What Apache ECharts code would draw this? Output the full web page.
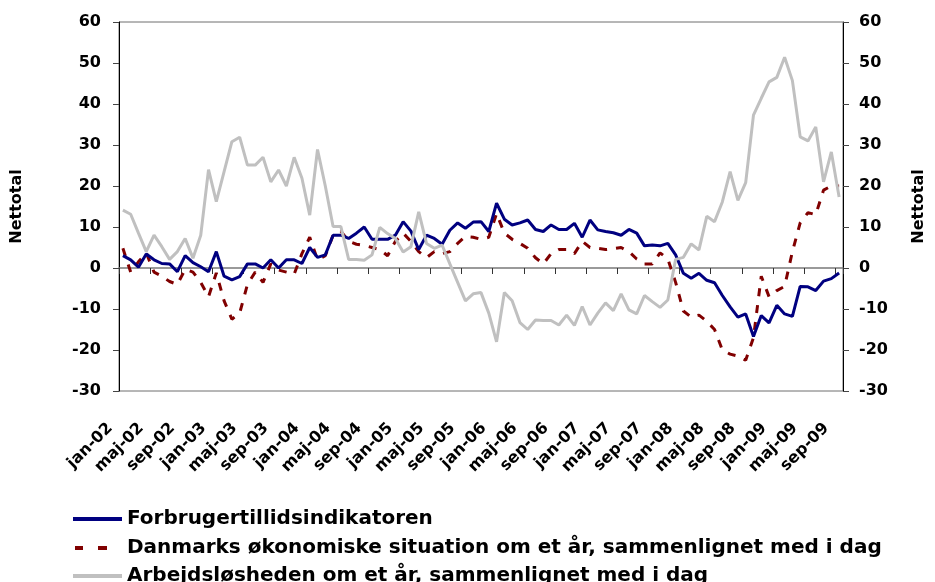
<!DOCTYPE html>
<html>
<head>
<meta charset="utf-8">
<script src="https://cdn.jsdelivr.net/npm/echarts@6/dist/echarts.min.js"></script>
<style>
  html, body { margin: 0; padding: 0; background: #fff; }
  #mychart { width: 935px; height: 582px; }
</style>
</head>
<body>
<div id="mychart"></div>
<script>
// måneder (danske forkortelser) og år
const monthNames = ["jan", "feb", "mar", "apr", "maj", "jun", "jul", "aug", "sep", "okt", "nov", "dec"];
const years = ["02", "03", "04", "05", "06", "07", "08", "09"];
const categories = years.flatMap(y => monthNames.map(m => m + "-" + y)).slice(0, 93); // jan-02 .. sep-09

const yTicks = { min: -30, max: 60, step: 10 };

const seriesNames = [
  "Forbrugertillidsindikatoren",
  "Danmarks økonomiske situation om et år, sammenlignet med i dag",
  "Arbejdsløsheden om et år, sammenlignet med i dag"
];

// Forbrugertillidsindikatoren
const forbruger = [
  3, 2, 0.2, 3.4, 2, 1.1, 1, -0.9, 3, 1.3, 0.3, -0.9,
  4, -2, -2.9, -2.1, 1, 1, 0, 2, 0, 2, 2, 1.1,
  5, 2.6, 3.2, 8, 8, 7.2, 8.5, 10, 7, 7, 7, 8,
  11.3, 9, 4.5, 8, 7.2, 5.8, 9.2, 11, 9.7, 11.2, 11.3, 8.9,
  15.8, 11.9, 10.5, 11, 11.7, 9.4, 8.9, 10.5, 9.4, 9.4, 10.9, 7.5,
  11.7, 9.3, 8.9, 8.6, 8, 9.4, 8.5, 5.4, 5.6, 5.4, 6, 3.2,
  -1.3, -2.5, -1.3, -3, -3.6, -6.7, -9.5, -12, -11.2, -16.7, -11.6, -13.4,
  -9.1, -11.2, -11.8, -4.5, -4.6, -5.5, -3.2, -2.6, -1.2
];

// Danmarks økonomiske situation om et år
const oekonomi = [
  4.8, -1, 1.5, 3.7, -1, -2, -3.3, -4, -0.3, -1, -3.5, -7,
  -1.2, -8, -12.5, -11, -4, -1, -3.5, 1, -0.5, -1, -1.5, 3.5,
  7.5, 2, 3, 8, 9, 6.5, 5.8, 5.5, 5, 4.5, 3, 6.5,
  8.5, 6.5, 4, 2.5, 4, 3.5, 4, 6, 7.7, 7.5, 7, 7.5,
  13.3, 8.5, 7, 6, 4.8, 2.5, 1, 3.5, 4.5, 4.5, 3.5, 6.5,
  5, 4.8, 4.5, 4.7, 5, 4, 2.2, 1, 1, 3.7, 2.2, -3.5,
  -10.5, -12, -11.5, -13, -15, -20, -21, -21.5, -22.5, -17, -2, -7,
  -5.5, -4.5, 4, 11, 13.5, 13, 19, 20, 20
];

// Arbejdsløsheden om et år
const ledighed = [
  14.1, 13.1, 8.5, 4, 8, 5.2, 2.1, 4, 7.2, 2.4, 8, 24,
  16.2, 23.5, 30.8, 31.9, 25.1, 25.1, 27, 21, 23.9, 20, 27, 21.9,
  12.9, 28.9, 20, 10.1, 10.1, 2.1, 2.1, 1.9, 3.2, 9.9, 8.4, 7.2,
  3.9, 5.2, 13.7, 6, 4.8, 5.6, 1, -3.5, -8, -6.3, -6, -11,
  -18, -6, -8, -13.3, -15, -12.7, -12.8, -12.8, -13.9, -11.5, -14, -9.4,
  -13.9, -11, -8.5, -10.4, -6.3, -10.2, -11.2, -6.7, -8.2, -9.6, -7.8, 2.1,
  2.6, 5.9, 4.4, 12.6, 11.3, 16.1, 23.5, 16.5, 20.8, 37.3, 41.4, 45.4,
  46.5, 51.4, 45.7, 32, 31, 34.4, 21, 28.3, 17.3
];

const font = "DejaVu Sans";
const labelStyle = { fontFamily: font, fontSize: 16, fontWeight: "bold", color: "#000" };
const legendText = { fontFamily: font, fontSize: 20, fontWeight: "bold", color: "#000", lineHeight: 20 };

function valueAxis(side, gap, labelMargin) {
  return {
    type: "value",
    position: side,
    min: yTicks.min,
    max: yTicks.max,
    interval: yTicks.step,
    name: "Nettotal",
    nameLocation: "middle",
    nameRotate: 90,
    nameGap: gap,
    nameTextStyle: labelStyle,
    axisLine: { show: true, lineStyle: { color: "#000", width: 1 } },
    axisTick: { show: true, length: 6, lineStyle: { color: "#444" } },
    splitLine: { show: false },
    axisLabel: Object.assign({ margin: labelMargin }, labelStyle)
  };
}

// one legend block per row, so the three rows stack like the original
function legendRow(name, icon, left, top, width, textPad) {
  return {
    orient: "vertical",
    left: left,
    top: top,
    itemWidth: width,
    itemHeight: 4,
    symbolKeepAspect: false,
    data: [{ name: name, icon: icon }],
    textStyle: Object.assign({ padding: [0, 0, 0, textPad] }, legendText)
  };
}

const myChart = echarts.init(document.getElementById("mychart"), null, { renderer: "canvas" });

const option = {
  animation: false,
  backgroundColor: "#fff",
  textStyle: { fontFamily: font },
  grid: {
    left: 119,
    right: 84,
    top: 22,
    bottom: 191,
    show: true,
    borderColor: "#6f6f6f",
    borderWidth: 1
  },
  legend: [
    legendRow(seriesNames[0], "rect", 68, 504, 49, 0),
    legendRow(seriesNames[1], "path://M0,0h8v4h-8z M23,0h9v4h-9z", 70, 533, 32, 15),
    legendRow(seriesNames[2], "rect", 68, 561, 49, 0)
  ],
  xAxis: [
    {
      // labels along the bottom of the plot
      type: "category",
      data: categories,
      position: "bottom",
      boundaryGap: true,
      axisLine: { show: false, onZero: false },
      axisTick: { show: false },
      axisLabel: Object.assign({ interval: 3, rotate: 45, margin: 22, padding: [0, 18, 0, 0] }, labelStyle)
    },
    {
      // the zero line with tick marks
      type: "category",
      data: categories,
      position: "bottom",
      boundaryGap: true,
      axisLine: { show: true, onZero: true, lineStyle: { color: "#7a7a7a", width: 1.5 } },
      axisTick: { show: true, interval: 3, length: 6, lineStyle: { color: "#333" } },
      axisLabel: { show: false }
    }
  ],
  yAxis: [valueAxis("left", 94, 18), valueAxis("right", 68, 16)],
  series: [
    {
      name: seriesNames[0],
      type: "line",
      data: forbruger,
      symbol: "none",
      z: 3,
      lineStyle: { color: "#000080", width: 3 },
      itemStyle: { color: "#000080" }
    },
    {
      name: seriesNames[1],
      type: "line",
      data: oekonomi,
      symbol: "none",
      z: 2,
      lineStyle: { color: "#800000", width: 3, type: [8, 9] },
      itemStyle: { color: "#800000" }
    },
    {
      name: seriesNames[2],
      type: "line",
      data: ledighed,
      symbol: "none",
      z: 4,
      lineStyle: { color: "#c0c0c0", width: 3 },
      itemStyle: { color: "#c0c0c0" }
    }
  ]
};

myChart.setOption(option);
window.addEventListener("resize", () => {
  myChart.resize();
});
</script>
</body>
</html>
